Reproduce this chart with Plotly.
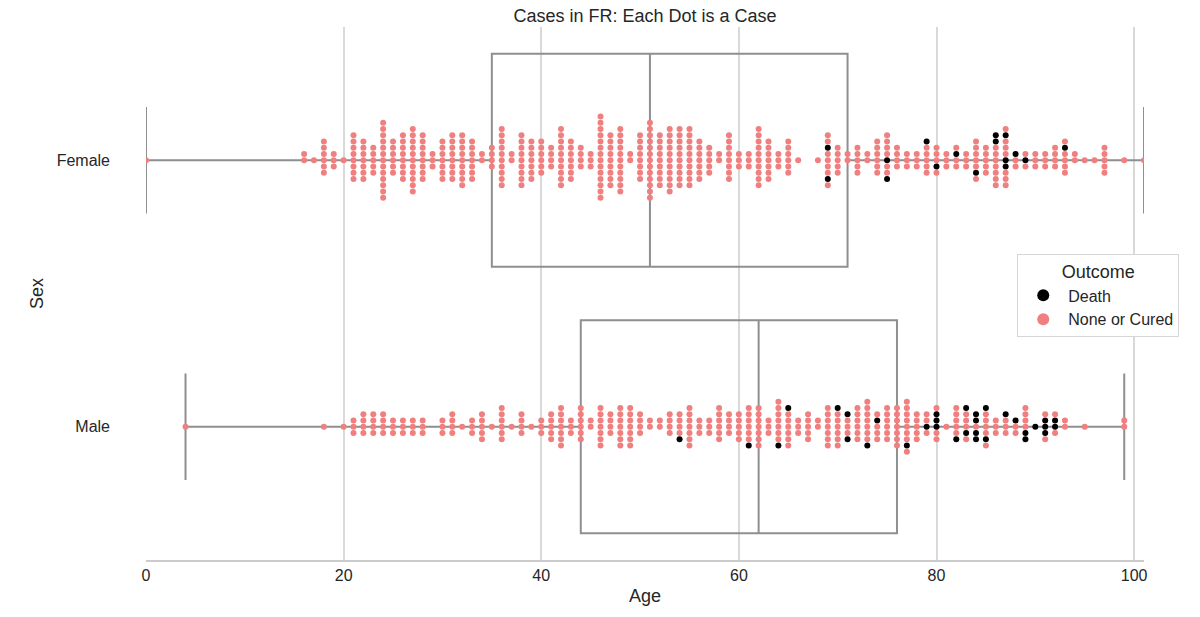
import numpy as np
import plotly.graph_objects as go

# ---------------- data ----------------
female_ages = [0, 16, 17, 18, 19, 20, 21, 22, 23, 24, 25, 26, 27, 28, 29, 30,
               31, 32, 33, 34, 35, 36, 37, 38, 39, 40, 41, 42, 43, 44, 45, 46,
               47, 48, 49, 50, 51, 52, 53, 54, 55, 56, 57, 58, 59, 60, 61, 62,
               63, 64, 65, 66, 68, 69, 70, 71, 72, 73, 74, 75, 76, 77, 78, 79,
               80, 81, 82, 83, 84, 85, 86, 87, 88, 89, 90, 91, 92, 93, 94, 95,
               96, 97, 99, 101]
female_counts = [1, 2, 1, 6, 3, 1, 8, 7, 5, 13, 6, 8, 11, 8, 3, 7,
                 8, 9, 7, 2, 4, 10, 2, 9, 7, 6, 4, 10, 7, 4, 3, 14,
                 9, 11, 2, 8, 13, 9, 11, 10, 10, 7, 5, 2, 8, 3, 3, 10,
                 7, 3, 6, 1, 1, 9, 5, 2, 5, 2, 6, 8, 4, 3, 3, 6,
                 5, 3, 4, 3, 7, 5, 9, 10, 3, 3, 3, 3, 4, 6, 2, 1,
                 1, 5, 1, 1]
# record order (within each age) of the cases whose outcome was death
female_death_order = {69: [3, 6], 75: [0, 6], 79: [5], 80: [2], 82: [1], 84: [4],
                      86: [5, 7], 87: [0, 2, 7], 88: [1], 89: [0], 93: [3]}

male_ages = [4, 18, 20, 21, 22, 23, 24, 25, 26, 27, 28, 30, 31, 32, 33, 34,
             35, 36, 37, 38, 39, 40, 41, 42, 43, 44, 45, 46, 47, 48, 49, 50,
             51, 52, 53, 54, 55, 56, 57, 58, 59, 60, 61, 62, 63, 64, 65, 66,
             67, 68, 69, 70, 71, 72, 73, 74, 75, 76, 77, 78, 79, 80, 81, 82,
             83, 84, 85, 86, 87, 88, 89, 90, 91, 92, 93, 95, 99]
male_counts = [1, 1, 1, 3, 4, 4, 4, 3, 3, 3, 3, 3, 4, 1, 3, 5,
               1, 6, 1, 4, 1, 3, 5, 7, 3, 6, 2, 7, 4, 7, 7, 4,
               2, 2, 4, 5, 7, 3, 3, 6, 4, 5, 7, 7, 3, 8, 7, 3,
               5, 2, 7, 7, 5, 6, 8, 5, 6, 7, 9, 5, 4, 6, 1, 6,
               6, 5, 7, 3, 4, 3, 6, 1, 5, 4, 2, 1, 2]
male_death_order = {54: [4], 61: [6], 64: [6], 65: [5], 70: [5], 71: [3, 4],
                    73: [6], 74: [1], 77: [6], 79: [0], 80: [0, 1, 3], 82: [4],
                    83: [2, 5], 84: [1, 2, 3, 4], 85: [4, 5], 87: [3], 88: [1],
                    89: [2, 4], 90: [0], 91: [0, 1, 2], 92: [0, 1]}

sexes = ["Female", "Male"]
outcomes = ["Death", "None or Cured"]
outcome_colors = {"Death": "black", "None or Cured": "#F08080"}

# ---------------- layout helpers ----------------
STEP = 0.0234  # vertical spacing of swarm dots, in category units


def swarm(ages, counts, deaths, center):
    pts = {o: ([], []) for o in outcomes}
    for a, n in zip(ages, counts):
        dset = set(deaths.get(a, []))
        for i in range(n):
            k = (i + 1) // 2
            if i == 0:
                y = center
            elif i % 2 == 1:
                y = center - k * STEP
            else:
                y = center + k * STEP
            o = "Death" if i in dset else "None or Cured"
            pts[o][0].append(a)
            pts[o][1].append(y)
    return pts


def box_stats(ages, counts):
    vals = np.repeat(np.array(ages, float), counts)
    q1, med, q3 = np.percentile(vals, [25, 50, 75])
    iqr = q3 - q1
    lo = vals[vals >= q1 - 1.5 * iqr].min()
    hi = vals[vals <= q3 + 1.5 * iqr].max()
    return q1, med, q3, lo, hi


fig = go.Figure()
data_sets = [(female_ages, female_counts, female_death_order),
             (male_ages, male_counts, male_death_order)]

for idx, (ages, counts, deaths) in enumerate(data_sets):
    q1, med, q3, lo, hi = box_stats(ages, counts)
    fig.add_trace(go.Box(
        orientation="h", y=[idx], q1=[q1], median=[med], q3=[q3],
        lowerfence=[lo], upperfence=[hi], width=0.8, whiskerwidth=0.5,
        fillcolor="rgba(255,255,255,0)", line=dict(color="#8f8f8f", width=2),
        showlegend=False, hoverinfo="skip", boxpoints=False))

all_pts = {o: ([], []) for o in outcomes}
for idx, (ages, counts, deaths) in enumerate(data_sets):
    p = swarm(ages, counts, deaths, idx)
    for o in outcomes:
        all_pts[o][0].extend(p[o][0])
        all_pts[o][1].extend(p[o][1])

for o in outcomes:
    fig.add_trace(go.Scatter(
        x=all_pts[o][0], y=all_pts[o][1], mode="markers", name=o,
        marker=dict(color=outcome_colors[o], size=6, line=dict(width=0))))

FONT = "Liberation Sans, Arial, sans-serif"
fig.update_layout(
    width=1200, height=617,
    margin=dict(l=146, r=56, t=27, b=57),
    paper_bgcolor="white", plot_bgcolor="white",
    font=dict(family=FONT, size=16, color="#262626"),
    title=dict(text="Cases in FR: Each Dot is a Case", x=0.5375, xanchor="center",
               y=0.975, yanchor="middle", font=dict(size=18, color="#262626")),
    xaxis=dict(range=[0, 101], tickvals=[0, 20, 40, 60, 80, 100],
               showgrid=True, gridcolor="#d9d9d9", gridwidth=1.5,
               zeroline=False, showline=True, linecolor="#cccccc", linewidth=1.5,
               ticks="", title=dict(text="Age", font=dict(size=18), standoff=6),
               tickfont=dict(size=16)),
    yaxis=dict(range=[1.5, -0.5], tickvals=[0, 1], ticktext=sexes,
               showgrid=False, zeroline=False, showline=False, ticks="",
               ticklabelstandoff=35,
               title=dict(text="Sex", font=dict(size=18), standoff=8),
               tickfont=dict(size=16)),
    legend=dict(x=0.873, y=0.574, xanchor="left", yanchor="top",
                bordercolor="#d6d6d6", borderwidth=1, bgcolor="white",
                title=dict(text="Outcome", side="top center", font=dict(size=18)),
                font=dict(size=16), itemsizing="constant", itemwidth=40),
)

fig.write_html("out.html")
